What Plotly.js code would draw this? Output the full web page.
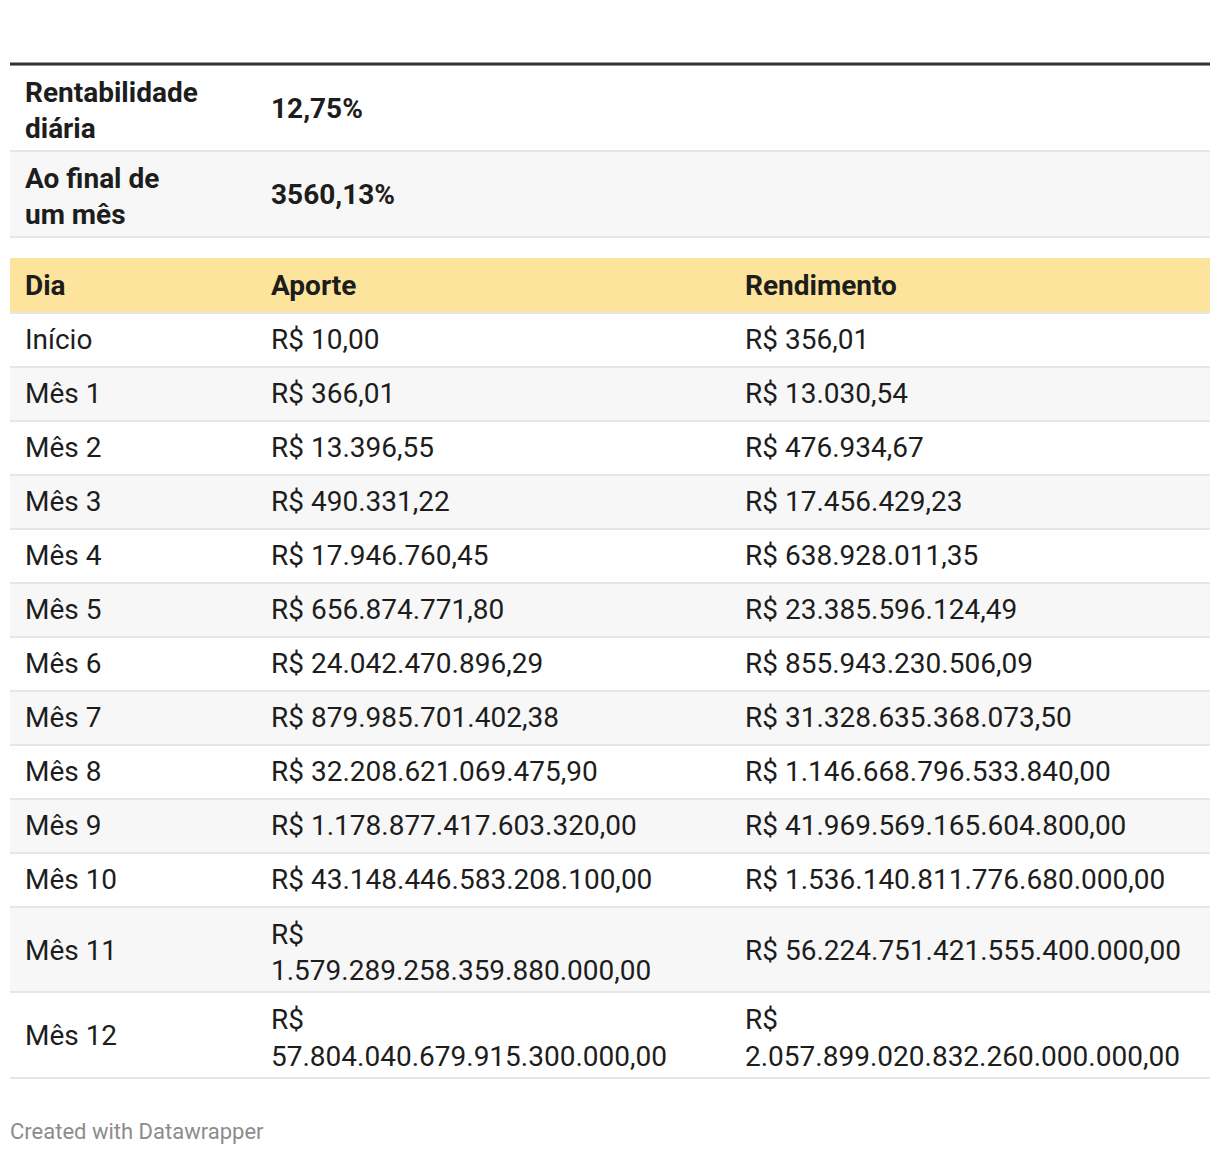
<!DOCTYPE html>
<html>
<head>
<meta charset="utf-8">
<script src="https://cdn.plot.ly/plotly-3.0.1.min.js"></script>
<style>html,body{margin:0;padding:0;background:#fff;}#chart{width:1220px;height:1154px;}</style>
</head>
<body>
<div id="chart"></div>
<script>
// ---- Data ----
const summaryLabels = [["Rentabilidade", "diária"], ["Ao final de", "um mês"]];
const summaryValues = ["12,75%", "3560,13%"];

const headers = ["Dia", "Aporte", "Rendimento"];
const dias = ["Início", "Mês 1", "Mês 2", "Mês 3", "Mês 4", "Mês 5", "Mês 6", "Mês 7", "Mês 8", "Mês 9", "Mês 10", "Mês 11", "Mês 12"];
const aportes = ["R$ 10,00", "R$ 366,01", "R$ 13.396,55", "R$ 490.331,22", "R$ 17.946.760,45", "R$ 656.874.771,80",
  "R$ 24.042.470.896,29", "R$ 879.985.701.402,38", "R$ 32.208.621.069.475,90", "R$ 1.178.877.417.603.320,00",
  "R$ 43.148.446.583.208.100,00", "R$ 1.579.289.258.359.880.000,00", "R$ 57.804.040.679.915.300.000,00"];
const rendimentos = ["R$ 356,01", "R$ 13.030,54", "R$ 476.934,67", "R$ 17.456.429,23", "R$ 638.928.011,35",
  "R$ 23.385.596.124,49", "R$ 855.943.230.506,09", "R$ 31.328.635.368.073,50", "R$ 1.146.668.796.533.840,00",
  "R$ 41.969.569.165.604.800,00", "R$ 1.536.140.811.776.680.000,00", "R$ 56.224.751.421.555.400.000,00",
  "R$ 2.057.899.020.832.260.000.000,00"];

// ---- Styling helpers ----
const W = 1220, H = 1154;
const NB = "\u00A0";
const FONT = "Roboto, 'Noto Sans', sans-serif";
const TXT = "#1d1d1d";
const CLEAR = "rgba(0,0,0,0)";
const FS = 28;
const SEP = "#e6e6e6";
function px(x) { return x / W; }
function py(y) { return (H - y) / H; }

// wrap money strings that are too wide for their column (after "R$")
const wrapLimit = [99, 30, 33];
const mainCols = [
  dias.map(d => NB + d),
  aportes.map(s => s.length > wrapLimit[1] ? s.replace("R$ ", "R$<br>") : s),
  rendimentos.map(s => s.length > wrapLimit[2] ? s.replace("R$ ", "R$<br>") : s)
];
const mainHeader = headers.map((h, i) => (i === 0 ? NB : "") + "<b>" + h + "</b>");
const nLines = s => s.split("<br>").length;
const blank = n => Array(n).fill(NB).join("<br>");   // invisible placeholder keeping line count
const rowLines = dias.map((_, r) => Math.max(...mainCols.map(c => nLines(c[r]))));
const rowFill = dias.map((_, i) => i % 2 === 0 ? "#ffffff" : "#f7f7f7");
const colW = [253, 474, 473];

const MAIN_TOP = 258, MAIN_BOT = 1100;
const SUM_TOP = 65 - 16, SUM_BOT = 250; // empty header takes 16px

const sumCols = [
  summaryLabels.map(l => NB + "<b>" + l[0] + "</b><br>" + NB + "<b>" + l[1] + "</b>"),
  summaryValues.map(v => "<b>" + v + "</b>")
];

function mainTable(s, vis, showHeader, filled) {
  return {
    type: "table",
    domain: { x: [px(10), px(1210)], y: [py(MAIN_BOT + s), py(MAIN_TOP + s)] },
    columnwidth: colW,
    header: {
      values: showHeader ? mainHeader : headers.map(() => NB), align: "left", height: 55,
      fill: { color: filled ? "#fde49c" : CLEAR }, line: { width: 0 },
      font: { family: FONT, size: FS, color: TXT }
    },
    cells: {
      values: mainCols.map((col, c) => col.map((v, r) => vis(c, r) ? v : blank(nLines(v)))),
      align: "left", height: 54,
      fill: { color: filled ? [rowFill, rowFill, rowFill] : CLEAR },
      line: { width: 0 },
      font: { family: FONT, size: FS, color: TXT }
    }
  };
}

// one-column separator table (no inner vertical edges)
const lineMain = {
  type: "table",
  domain: { x: [0, 1], y: [py(MAIN_BOT), py(MAIN_TOP)] },
  header: { values: [NB], height: 55, fill: { color: CLEAR }, line: { width: 0 },
    font: { family: FONT, size: FS, color: TXT } },
  cells: {
    values: [rowLines.map(n => blank(n))],
    height: 54, fill: { color: CLEAR }, line: { color: SEP, width: 2 },
    font: { family: FONT, size: FS, color: TXT }
  }
};

function sumTable(s, vis, filled) {
  return {
    type: "table",
    domain: { x: [px(10), px(1210)], y: [py(SUM_BOT + s), py(SUM_TOP + s)] },
    columnwidth: [colW[0], colW[1] + colW[2]],
    header: { values: [], fill: { color: CLEAR }, line: { width: 0 } },
    cells: {
      values: sumCols.map((col, c) => col.map(v => vis(c) ? v : blank(2))),
      align: "left", height: 86,
      fill: { color: filled ? [["#ffffff", "#f7f7f7"]] : CLEAR },
      line: { width: 0 },
      font: { family: FONT, size: FS, color: TXT }
    }
  };
}
const lineSum = {
  type: "table",
  domain: { x: [0, 1], y: [py(SUM_BOT), py(SUM_TOP)] },
  header: { values: [], fill: { color: CLEAR }, line: { width: 0 } },
  cells: {
    values: [sumCols[0].map(() => blank(2))],
    height: 86, fill: { color: CLEAR }, line: { color: SEP, width: 2 },
    font: { family: FONT, size: FS, color: TXT }
  }
};

const traces = [
  sumTable(0, () => false, true),
  mainTable(0, () => false, false, true),
  lineSum, lineMain,
  sumTable(3, c => c === 0, false),
  sumTable(19, c => c === 1, false),
  mainTable(3, (c, r) => nLines(mainCols[c][r]) > 1, true, false),
  mainTable(7, (c, r) => rowLines[r] === 1, false, false),
  mainTable(24, (c, r) => rowLines[r] > 1 && nLines(mainCols[c][r]) === 1, false, false)
];

const layout = {
  width: W, height: H,
  margin: { l: 0, r: 0, t: 0, b: 0 },
  paper_bgcolor: "#ffffff",
  font: { family: FONT },
  shapes: [
    { type: "rect", xref: "paper", yref: "paper", x0: 0, x1: px(10), y0: py(1095), y1: py(60),
      fillcolor: "#ffffff", line: { width: 0 }, layer: "above" },
    { type: "rect", xref: "paper", yref: "paper", x0: px(1210), x1: 1, y0: py(1095), y1: py(60),
      fillcolor: "#ffffff", line: { width: 0 }, layer: "above" },
    { type: "line", xref: "paper", yref: "paper", x0: px(10), x1: px(1210), y0: py(64), y1: py(64),
      line: { color: "#333333", width: 3 } }
  ],
  annotations: [
    { text: "Created with Datawrapper", xref: "paper", yref: "paper", x: px(8), y: py(1131),
      xanchor: "left", yanchor: "middle", showarrow: false,
      font: { family: FONT, size: 22, color: "#8c8c8c" } }
  ]
};

Plotly.newPlot("chart", traces, layout, { displayModeBar: false, staticPlot: true });
</script>
</body>
</html>
